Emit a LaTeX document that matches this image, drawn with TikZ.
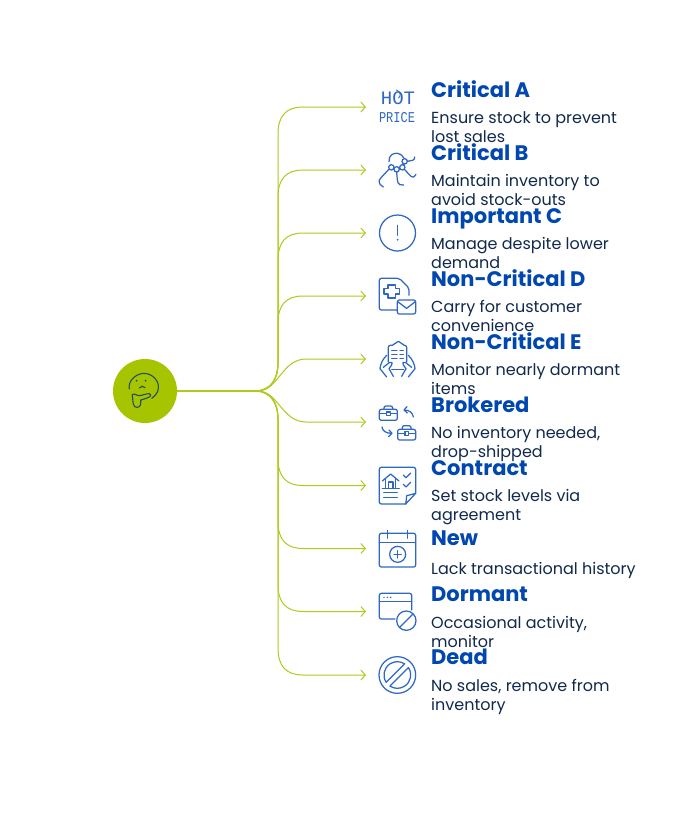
\documentclass[tikz,border=0pt]{standalone}
\usepackage{fontspec}
\setmainfont{Poppins}
\newfontfamily\monof{Liberation Mono}
\usetikzlibrary{arrows.meta}
\definecolor{lime}{HTML}{A6C400}
\definecolor{limeln}{HTML}{AECB1E}
\definecolor{titleblue}{HTML}{0047B0}
\definecolor{bodynavy}{HTML}{10294D}
\definecolor{iconblue}{HTML}{2F68C4}
\definecolor{facedark}{HTML}{24505A}
\tikzset{
  conn/.style={draw=limeln,line width=1pt,-{Straight Barb[length=4.5pt,width=10pt,line width=1pt]}},
  slot/.style={minimum width=62pt,minimum height=40pt,inner sep=0pt,outer sep=0pt},
  titletext/.style={anchor=base west,inner sep=0pt,text=titleblue,font=\fontsize{21}{21}\selectfont\bfseries},
  bodytext/.style={anchor=base west,inner sep=0pt,text=bodynavy,align=left,font=\fontsize{16}{19}\selectfont},
  ic/.style={draw=iconblue,line width=1.25pt,line cap=round,line join=round,fill=none},
  facel/.style={draw=facedark,line width=1.1pt,line cap=round,line join=round},
}
\newcommand{\rowtxt}[6]{%
  \node[titletext] (t#1) at (431,#2) {#3};
  \node[bodytext] (d#1) at (431,#4) {#5\\#6};
}
\begin{document}
\begin{tikzpicture}[x=1pt,y=-1pt]
\useasboundingbox (0,0) rectangle (688,820);
\fill[white] (0,0) rectangle (688,820);
% root
\node[circle,fill=lime,minimum size=64pt,inner sep=0pt,outer sep=0pt] (root) at (145,391) {};
\foreach \n/\y in {1/107,2/170,3/233,4/296,5/359,6/422,7/485.5,8/548.5,9/611.5,10/675}
  \node[slot] (s\n) at (397,\y) {};
\coordinate (hub) at (258,391);
% connectors
\foreach \n/\y in {1/107,2/170,3/233,4/296}
  \draw[conn] (root.east) -- (hub) .. controls (270,389) and (278,381) .. (278,362) -- (278,\y+27) .. controls (278,\y+9) and (286,\y) .. (303,\y) -- (s\n.west);
\draw[conn] (root.east) -- (hub) .. controls (278,391) and (282,359) .. (306,359) -- (s5.west);
\draw[conn] (root.east) -- (hub) .. controls (278,391) and (282,422) .. (306,422) -- (s6.west);
\foreach \n/\y in {7/485.5,8/548.5,9/611.5,10/675}
  \draw[conn] (root.east) -- (hub) .. controls (270,393) and (278,401) .. (278,420) -- (278,\y-27) .. controls (278,\y-9) and (286,\y) .. (303,\y) -- (s\n.west);
% face
\begin{scope}[shift={(105,350)},scale=1/3]
  \draw[facel] (73,117) .. controls (68,95) and (90,72) .. (115,70) .. controls (145,70) and (163,95) .. (160,115) .. controls (159,128) and (150,138) .. (140,145);
  \fill[facedark] (95,92) circle (3) (122,92) circle (3);
  \draw[facel] (103,114) .. controls (108,107) and (115,107) .. (120,113);
  \draw[facel] (90,133) .. controls (82,130) and (80,135) .. (83,145) .. controls (84,160) and (85,172) .. (96,172) .. controls (106,172) and (109,162) .. (107,150) .. controls (117,147) and (140,142) .. (137,134) .. controls (134,127) and (118,134) .. (105,137) .. controls (100,138) and (96,135) .. (90,133);
\end{scope}
% icon 1
\node[inner sep=0pt,text=iconblue,font=\fontsize{19}{19}\monof] (hot) at (398,98) {HOT};
\node[inner sep=0pt,text=iconblue,font=\fontsize{15}{15}\monof,xscale=0.8] (price) at (397,118) {PRICE};
\draw[ic,line width=0.9pt] (396.5,90) .. controls (401,92) and (401,96) .. (398.5,98);
% icon 2
\begin{scope}[shift={(370,80)},scale=1/3]
  \draw[ic] (57,245) .. controls (55,225) and (72,218) .. (82,220) .. controls (92,222) and (100,228) .. (102,235);
  \draw[ic] (64,262) circle (8) (80,268) circle (8) (97,262) circle (8) (104,244) circle (8);
  \draw[ic] (112,244) -- (128,241) .. controls (132,240) and (134,236) .. (134,231);
  \draw[ic] (58,267) .. controls (45,280) and (35,290) .. (28,300) .. controls (26,310) and (32,318) .. (40,321);
  \draw[ic] (80,276) .. controls (81,290) and (82,302) .. (84,308) .. controls (86,314) and (92,316) .. (101,315);
  \draw[ic] (103,268) -- (124,290) .. controls (128,293) and (132,292) .. (138,283);
\end{scope}
% icon 3
\node[circle,draw=iconblue,line width=1.25pt,minimum size=36pt,inner sep=0pt] (warn) at (397.5,233) {};
\begin{scope}[shift={(360,70)},scale=1/3]
  \draw[ic] (113,466) -- (113,496);
  \fill[iconblue] (113,509) circle (3);
\end{scope}
% icon 4
\begin{scope}[shift={(360,270)},scale=1/3]
  \draw[ic,rounded corners=2pt] (147,76) -- (147,54) -- (118,25) -- (58,25) -- (58,120) -- (110,120);
  \draw[ic] (84,45) -- (106,45) -- (106,55) -- (118,55) -- (118,72) -- (106,72) -- (106,84) -- (84,84) -- (84,72) -- (72,72) -- (72,55) -- (84,55) -- cycle;
  \draw[ic,rounded corners=2pt] (112,90) rectangle (167,132);
  \draw[ic] (113,95) -- (140,115) -- (166,95);
\end{scope}
% icon 5
\begin{scope}[shift={(375,338)},scale=1/3]
  \draw[ic,rounded corners=2pt] (40,72) -- (40,22) -- (58,22) -- (62,11) -- (78,11) -- (82,22) -- (95,22) -- (95,72);
  \draw[ic] (50,95) -- (86,95);
  \draw[ic] (50,38) -- (66,38) (50,50) -- (66,50) (50,62) -- (66,62);
  \draw[ic] (75,38) -- (85,38) (75,50) -- (85,50) (75,62) -- (85,62);
  \draw[ic] (35,52) .. controls (24,62) and (16,78) .. (15,92) -- (35,117);
  \draw[ic] (25,88) -- (44,73) .. controls (50,70) and (55,76) .. (50,81) -- (42,92) -- (55,115);
  \draw[ic] (100,52) .. controls (111,62) and (119,78) .. (120,92) -- (100,117);
  \draw[ic] (110,88) -- (91,73) .. controls (85,70) and (80,76) .. (85,81) -- (93,92) -- (80,115);
\end{scope}
% icon 6
\begin{scope}[shift={(360,270)},scale=1/3]
  \draw[ic,rounded corners=2pt] (58,418) rectangle (112,451);
  \draw[ic,rounded corners=2pt] (72,418) -- (72,408) -- (98,408) -- (98,418);
  \draw[ic] (58,431) -- (80,431) (91,431) -- (112,431);
  \draw[ic] (80,426) rectangle (91,437);
  \draw[ic] (160,441) .. controls (158,428) and (148,420) .. (133,420);
  \draw[ic] (141,410) -- (132,420) -- (142,429);
  \draw[ic,rounded corners=2pt] (113,478) rectangle (167,510);
  \draw[ic,rounded corners=2pt] (127,478) -- (127,467) -- (153,467) -- (153,478);
  \draw[ic] (113,490) -- (135,490) (146,490) -- (167,490);
  \draw[ic] (135,485) rectangle (146,496);
  \draw[ic] (66,471) .. controls (68,483) and (78,490) .. (95,490);
  \draw[ic] (87,480) -- (96,490) -- (86,500);
\end{scope}
% icon 7
\begin{scope}[shift={(360,455)},scale=1/3]
  \draw[ic,rounded corners=2pt] (167,115) -- (167,37) -- (58,37) -- (58,147) -- (137,147);
  \draw[ic] (137,147) -- (167,115) .. controls (158,120) and (148,118) .. (140,122) .. controls (138,130) and (140,140) .. (137,147);
  \draw[ic] (67,78) -- (92,57) -- (117,78);
  \draw[ic] (77,71) -- (77,100) (107,71) -- (107,100);
  \draw[ic] (85,100) -- (85,81) -- (99,81) -- (99,100);
  \draw[ic] (67,100) -- (118,100);
  \draw[ic] (71,113) -- (112,113) (71,127) -- (112,127);
  \draw[ic] (130,60) -- (138,68) -- (152,54);
  \draw[ic] (130,88) -- (138,96) -- (152,82);
\end{scope}
% icon 8
\begin{scope}[shift={(360,455)},scale=1/3]
  \draw[ic,rounded corners=2pt] (58,235) rectangle (167,336);
  \draw[ic] (58,262) -- (167,262);
  \draw[ic] (83,226) -- (83,250) (143,226) -- (143,250);
  \draw[ic] (113,298) circle (24);
  \draw[ic] (102,298) -- (124,298) (113,287) -- (113,309);
\end{scope}
% icon 9
\begin{scope}[shift={(360,455)},scale=1/3]
  \draw[ic,rounded corners=2pt] (155,465) -- (155,415) -- (58,415) -- (58,492) -- (105,492);
  \draw[ic] (58,440) -- (155,440);
  \fill[iconblue] (72,427) circle (2.5) (82,427) circle (2.5) (92,427) circle (2.5);
  \draw[ic] (139,497) circle (29);
  \draw[ic] (119,517) -- (159,477);
\end{scope}
% icon 10
\begin{scope}[shift={(360,455)},scale=1/3]
  \draw[ic] (112,660) circle (55);
  \draw[ic] (78.6,682.1) arc[start angle=146.5,end angle=303.5,radius=40] -- cycle;
  \draw[ic] (145.4,637.9) arc[start angle=-33.5,end angle=123.5,radius=40] -- cycle;
\end{scope}
% text
\rowtxt{1}{97}{Critical A}{142}{Ensure stock to prevent}{lost sales}
\rowtxt{2}{160}{Critical B}{205}{Maintain inventory to}{avoid stock-outs}
\rowtxt{3}{223}{Important C}{268}{Manage despite lower}{demand}
\rowtxt{4}{286}{Non-Critical D}{331}{Carry for customer}{convenience}
\rowtxt{5}{349}{Non-Critical E}{394}{Monitor nearly dormant}{items}
\rowtxt{6}{412}{Brokered}{457}{No inventory needed,}{drop-shipped}
\rowtxt{7}{475}{Contract}{520}{Set stock levels via}{agreement}
\node[titletext] (t8) at (431,545) {New};
\node[bodytext] (d8) at (431,574) {Lack transactional history};
\rowtxt{9}{601}{Dormant}{647}{Occasional activity,}{monitor}
\rowtxt{10}{664}{Dead}{710}{No sales, remove from}{inventory}
\end{tikzpicture}
\end{document}
